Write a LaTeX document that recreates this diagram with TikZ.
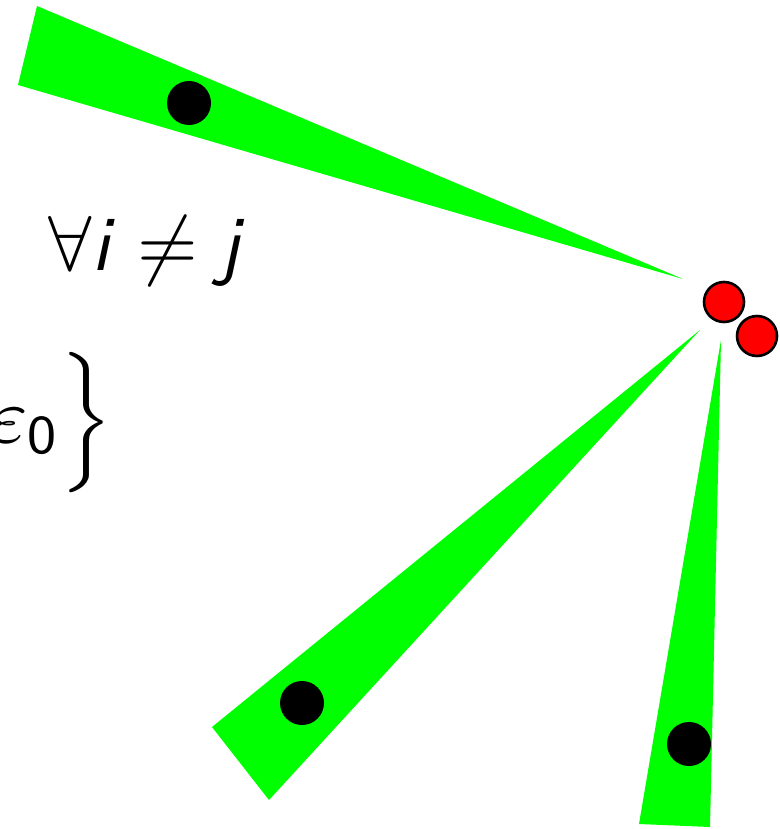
\documentclass[tikz,border=0pt]{standalone}
\usepackage{amsmath}
\definecolor{beamgreen}{RGB}{0,255,0}
\definecolor{dotred}{RGB}{255,0,0}
\tikzset{
  beam/.style={fill=beamgreen, draw=none},
  target/.style={circle, fill=black, draw=none, minimum size=44pt, inner sep=0pt},
  source/.style={circle, fill=dotred, draw=black, line width=2.6pt, minimum size=40pt, inner sep=0pt},
  bigtext/.style={inner sep=0pt, scale=7.8}
}
\begin{document}
\begin{tikzpicture}[x=1pt,y=-1pt]
\useasboundingbox (0,0) rectangle (779,829);
% beams
\fill[beam] (37,6) -- (18,85) -- (683,279) -- cycle;
\fill[beam] (212,727) -- (269,800) -- (700,330) -- cycle;
\fill[beam] (639,824) -- (710,827) -- (721,340) -- cycle;
% targets
\node[target] (t1) at (189,103) {};
\node[target] (t2) at (302,703) {};
\node[target] (t3) at (689,744) {};
% sources
\node[source] (s1) at (724,302) {};
\node[source] (s2) at (757,336) {};
% texts
\node[bigtext, anchor=base west] (cond) at (47,270)
  {$\forall\textsf{\textit{i}}\neq\textsf{\textit{j}}$};
\node[bigtext, anchor=base east] (eps) at (114,442)
  {$\varepsilon_{\textsf{0}}\Big\}$};
\end{tikzpicture}
\end{document}
